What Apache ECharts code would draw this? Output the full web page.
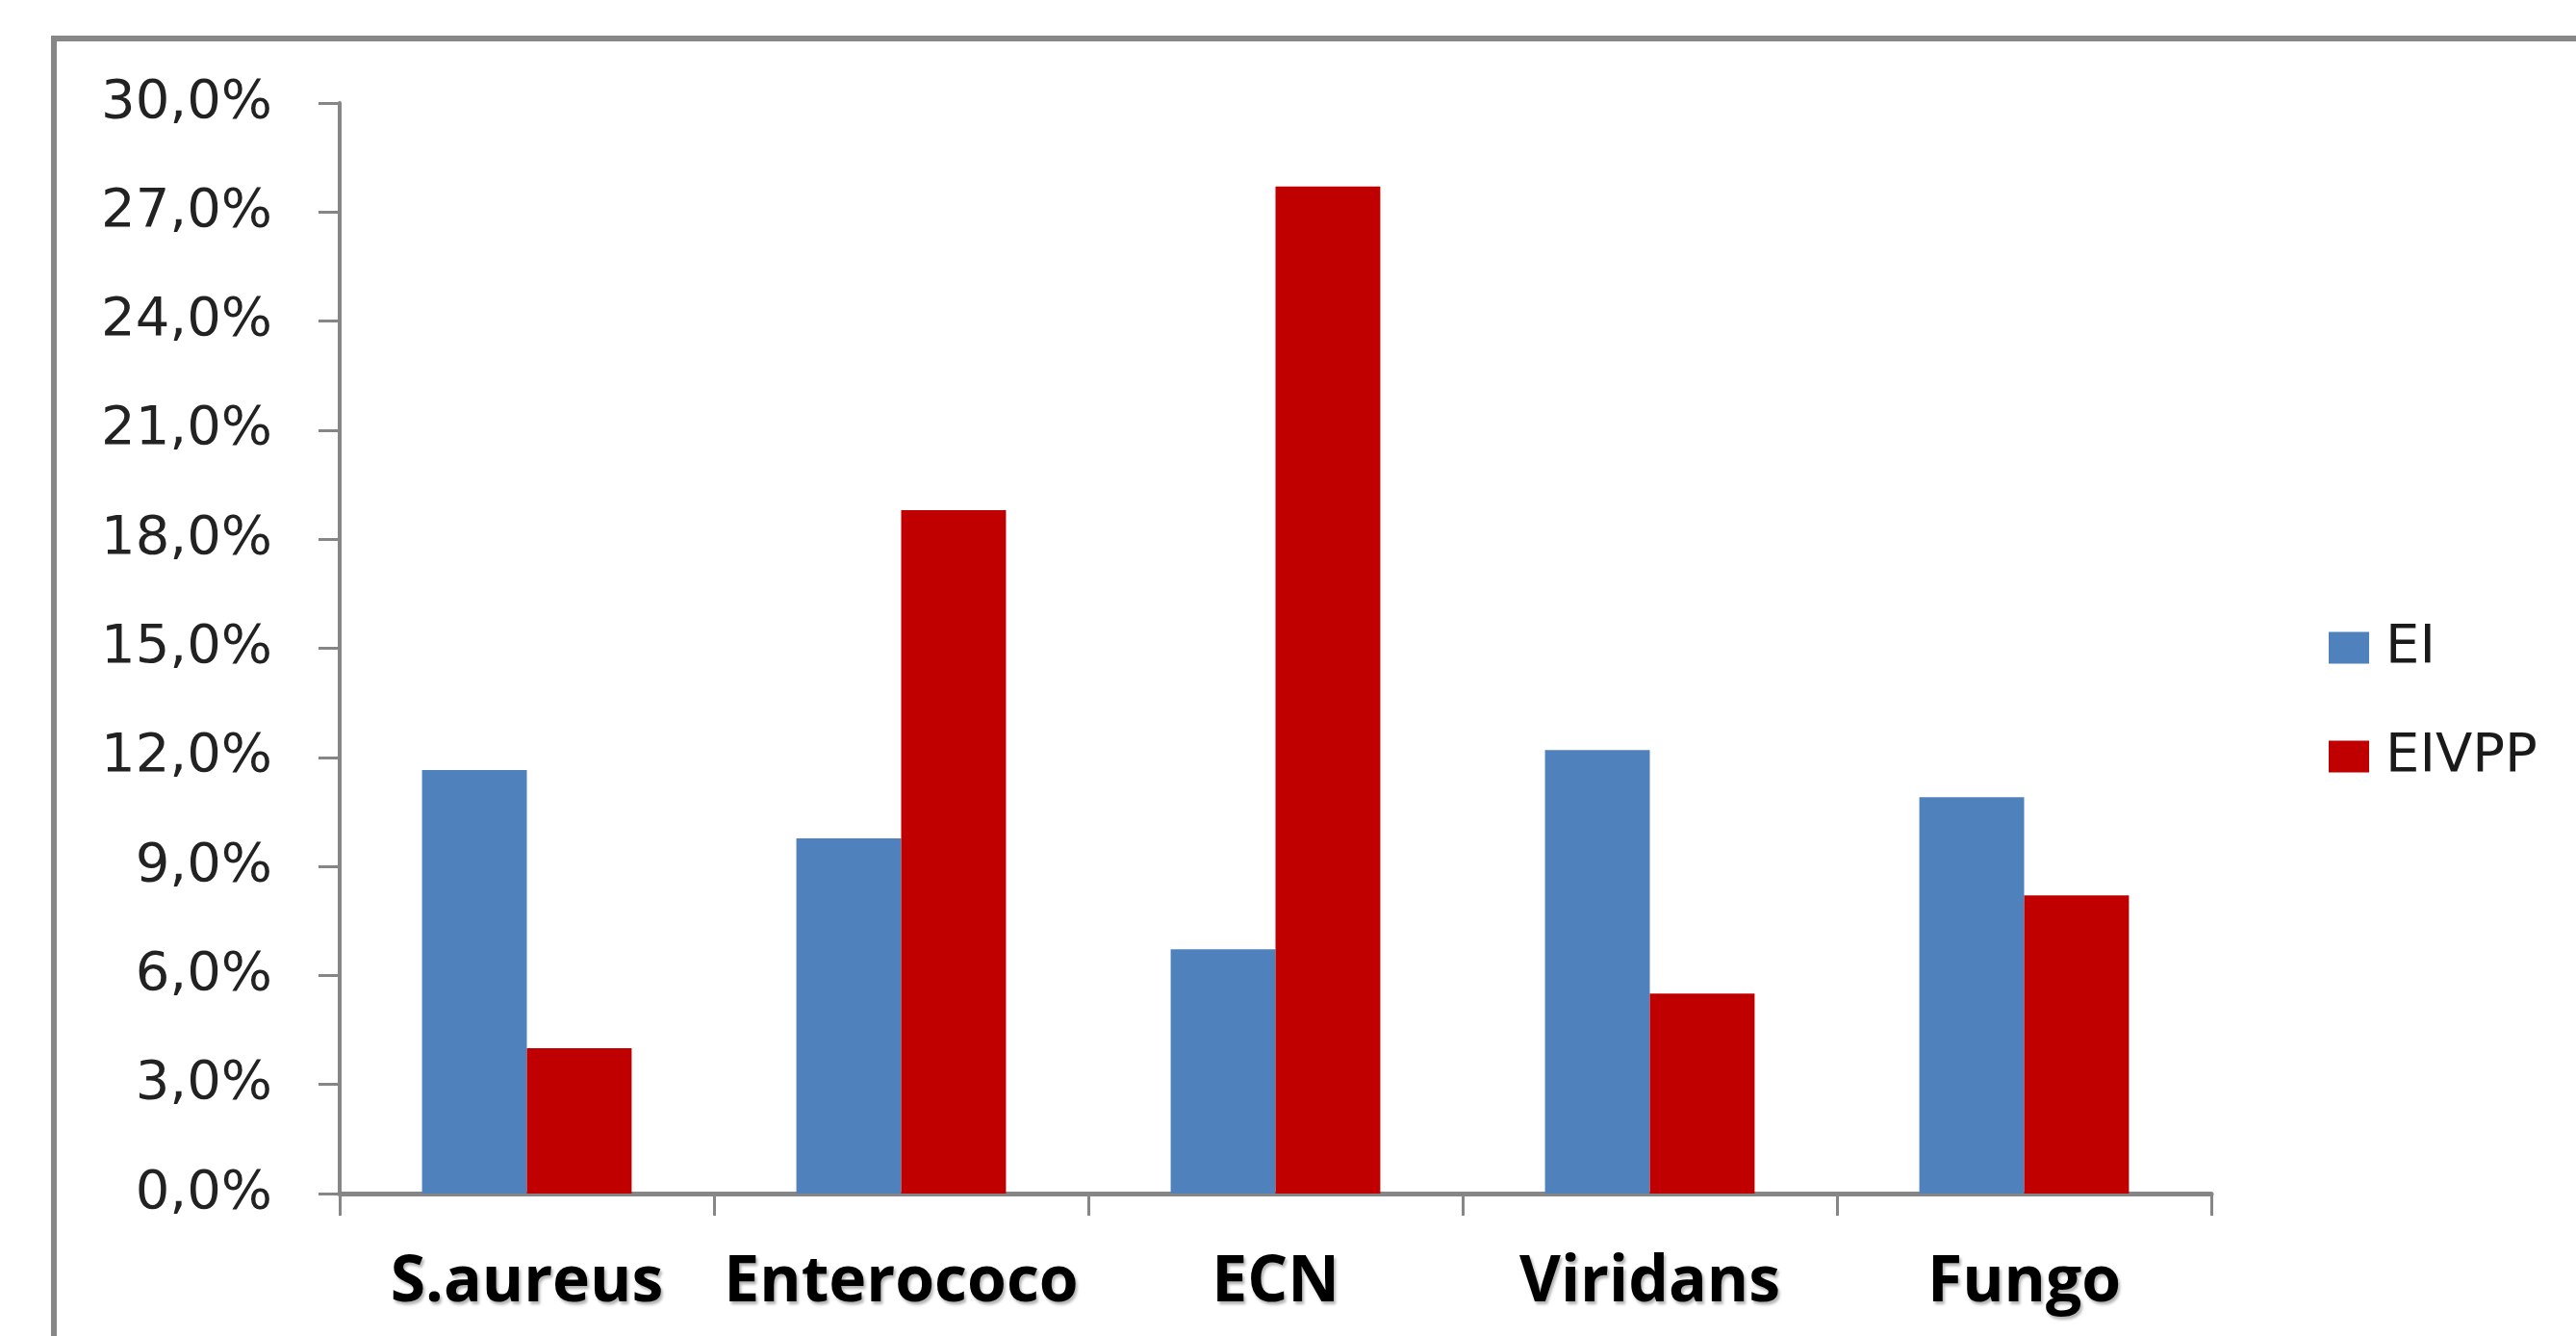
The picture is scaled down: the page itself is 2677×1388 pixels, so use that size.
<!DOCTYPE html>
<html>
<head>
<meta charset="utf-8">
<script src="https://cdn.jsdelivr.net/npm/echarts@6/dist/echarts.min.js"></script>
<style>
  html, body { margin: 0; padding: 0; background: #ffffff; }
  #chart { width: 2677px; height: 1388px; }
</style>
</head>
<body>
<div id="chart"></div>
<script>
// Microorganism categories and percentage values per group
const categories = ['S.aureus', 'Enterococo', 'ECN', 'Viridans', 'Fungo'];
const seriesNames = ['EI', 'EIVPP'];
const eiValues = [11.65, 9.77, 6.72, 12.2, 10.9];
const eivppValues = [4.0, 18.8, 27.7, 5.5, 8.2];
const yTicks = { min: 0, max: 30, step: 3 };

const axisGray = '#868686';
const chart = echarts.init(document.getElementById('chart'), null, { renderer: 'canvas' });

chart.setOption({
  backgroundColor: '#ffffff',
  animation: false,
  // outer chart-area frame, running off the right and bottom edges
  graphic: [{
    type: 'rect',
    left: 53, top: 37,
    shape: { width: 3000, height: 2000 },
    style: { fill: 'none', stroke: '#878787', lineWidth: 6 },
    silent: true,
    z: -1
  }],
  grid: { left: 353, right: 379, top: 107, bottom: 148, containLabel: false },
  legend: {
    orient: 'vertical',
    left: 2415,
    top: 638,
    icon: 'rect',
    itemWidth: 42,
    itemHeight: 33,
    itemGap: 53,
    data: seriesNames,
    textStyle: {
      fontFamily: 'DejaVu Sans',
      fontSize: 56,
      lineHeight: 60,
      color: '#1a1a1a',
      padding: [0, 0, 0, 12]
    }
  },
  xAxis: {
    type: 'category',
    data: categories,
    boundaryGap: true,
    axisLine: { show: true, lineStyle: { color: axisGray, width: 5 } },
    axisTick: { show: true, interval: 0, length: 23, lineStyle: { color: axisGray, width: 3 } },
    axisLabel: {
      interval: 0,
      hideOverlap: false,
      margin: 60,
      fontFamily: 'Open Sans',
      fontWeight: 'bold',
      fontSize: 66,
      color: '#000000',
      textShadowColor: 'rgba(0,0,0,0.3)',
      textShadowBlur: 3,
      textShadowOffsetX: 2,
      textShadowOffsetY: 3
    },
    splitLine: { show: false }
  },
  yAxis: {
    type: 'value',
    min: yTicks.min,
    max: yTicks.max,
    interval: yTicks.step,
    axisLine: { show: true, lineStyle: { color: axisGray, width: 4 } },
    axisTick: { show: true, length: 22, lineStyle: { color: axisGray, width: 3 } },
    axisLabel: {
      margin: 70,
      fontFamily: 'DejaVu Sans',
      fontSize: 56,
      color: '#222222',
      formatter: v => v.toFixed(1).replace('.', ',') + '%'
    },
    splitLine: { show: false }
  },
  series: [
    {
      name: seriesNames[0],
      type: 'bar',
      data: eiValues,
      barGap: '0%',
      barCategoryGap: '44%',
      itemStyle: { color: '#4F81BD' }
    },
    {
      name: seriesNames[1],
      type: 'bar',
      data: eivppValues,
      barGap: '0%',
      barCategoryGap: '44%',
      itemStyle: { color: '#C00000' }
    }
  ]
});
</script>
</body>
</html>
